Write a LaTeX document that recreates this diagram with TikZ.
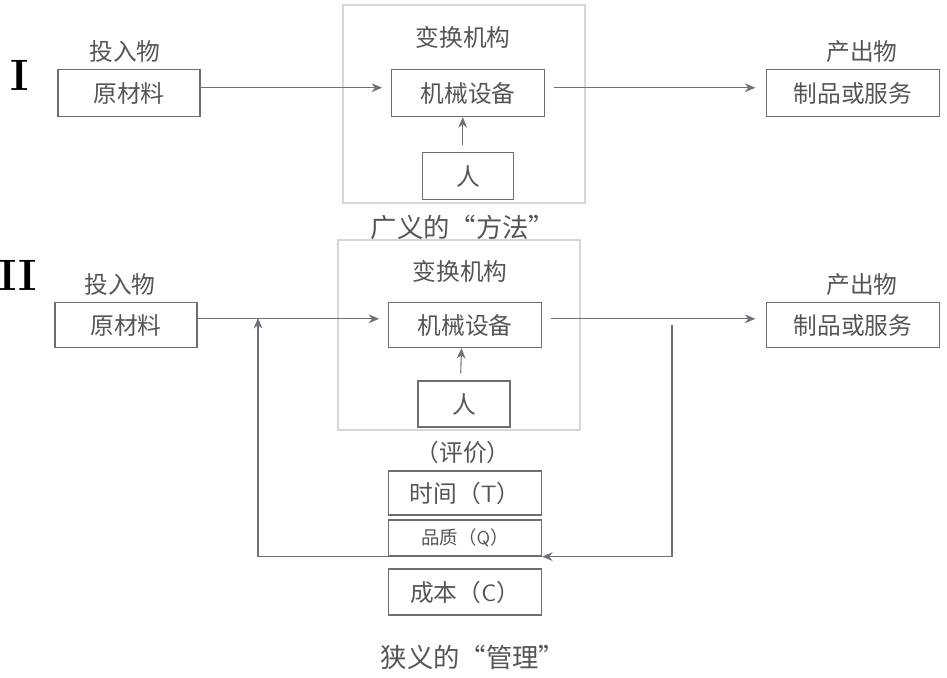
\documentclass[tikz,border=0pt]{standalone}
\usepackage{fontspec}
\newfontfamily\cjk{Noto Sans CJK SC}
\usetikzlibrary{positioning,arrows.meta}
\definecolor{inkgray}{HTML}{555555}
\definecolor{linegray}{HTML}{6E6E6E}
\definecolor{framegray}{HTML}{D6D6D6}
\definecolor{arrgray}{HTML}{707078}

\begin{document}
\begin{tikzpicture}[
    x=0.02cm, y=-0.02cm,
    box/.style={draw=linegray, line width=0.7pt, minimum height=0.94cm, inner sep=0pt, text=inkgray, font=\cjk\fontsize{13.5}{16}\selectfont},
    lbl/.style={inner sep=0pt, text=inkgray, font=\cjk\fontsize{13.5}{16}\selectfont},
    title/.style={inner sep=0pt, text=inkgray, font=\cjk\fontsize{15}{18}\selectfont},
    numeral/.style={inner sep=0pt, font=\bfseries\fontsize{25}{25}\selectfont},
    frame/.style={draw=framegray, line width=0.7pt, inner sep=0pt},
    arr/.style={-{Stealth[length=6pt, width=5pt]}, draw=arrgray, line width=0.6pt}
]
\useasboundingbox (0,0) rectangle (947,678);

% I: broad method
\node[numeral] (num1) at (20,75) {I};
\node[frame, minimum width=4.84cm, minimum height=3.96cm] (trans1) at (464,104) {};
\node[lbl] (tlbl1) at (463,37) {变换机构};
\node[lbl] (in1) at (125,52) {投入物};
\node[box, minimum width=2.84cm] (raw1) at (129,93) {原材料};
\node[box, minimum width=3.06cm] (mach1) at (468,93) {机械设备};
\node[box, minimum width=1.82cm] (man1) at (468,176) {人};
\node[lbl] (out1) at (862,52) {产出物};
\node[box, minimum width=3.46cm] (prod1) at (853,93) {制品或服务};
\node[title] (method) at (463,228) {广义的“方法”};
\draw[arr, shorten >=5pt] ([yshift=3pt]raw1.east) -- ([yshift=3pt]mach1.west);
\draw[arr, shorten <=5pt, shorten >=6pt] ([yshift=3pt]mach1.east) -- ([yshift=3pt]prod1.west);
\draw[arr, shorten <=4pt] ([xshift=-3pt]man1.north) -- ([xshift=-3pt]mach1.south);

% II: narrow management
\node[numeral] (num2) at (18,275) {II};
\node[frame, minimum width=4.84cm, minimum height=3.8cm] (trans2) at (459,335) {};
\node[lbl] (tlbl2) at (460,271) {变换机构};
\node[lbl] (in2) at (120,285) {投入物};
\node[box, minimum width=2.84cm, minimum height=0.9cm] (raw2) at (126,325) {原材料};
\node[box, minimum width=3.06cm, minimum height=0.9cm] (mach2) at (465,325) {机械设备};
\node[box, minimum width=1.84cm, minimum height=0.92cm] (man2) at (464,404) {人};
\node[lbl] (out2) at (862,285) {产出物};
\node[box, minimum width=3.46cm, minimum height=0.9cm] (prod2) at (853,325) {制品或服务};
\node[lbl] (eval) at (463,452) {（评价）};
\node[box, minimum width=3.06cm, minimum height=0.88cm] (time) at (465,493) {时间（\textsf{T}）};
\node[box, minimum width=3.06cm, minimum height=0.72cm, font=\cjk\fontsize{10.5}{12}\selectfont] (qual) at (465,538) {品质（\textsf{Q}）};
\node[box, minimum width=3.06cm, minimum height=0.92cm] (cost) at (465,592) {成本（\textsf{C}）};
\node[title] (mgmt) at (473,657) {狭义的“管理”};
\coordinate (fbL) at (258,318);
\coordinate (fbR) at (672,325);
\draw[arr, shorten >=5pt] ([yshift=3.5pt]raw2.east) -- ([yshift=3.5pt]mach2.west);
\draw[arr, shorten <=5pt, shorten >=6pt] ([yshift=3.5pt]mach2.east) -- ([yshift=3.5pt]prod2.west);
\draw[arr, shorten <=4pt] ([xshift=-2pt]man2.north) -- ([xshift=-2pt]mach2.south);
\draw[arr] (qual.south west) -| (fbL);
\draw[arr] (fbR) |- (qual.south east);
\end{tikzpicture}
\end{document}
